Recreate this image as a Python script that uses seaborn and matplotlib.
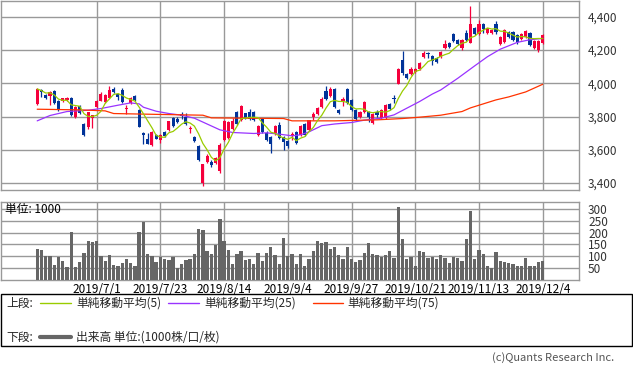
import numpy as np
import pandas as pd
import matplotlib
matplotlib.use("Agg")
import matplotlib.pyplot as plt
from matplotlib.lines import Line2D
from matplotlib.patches import Rectangle
from matplotlib.ticker import FuncFormatter
import seaborn as sns

# ---------------- data ----------------
opens = [3876, 3962, 3930, 3926, 3952, 3892, 3896, 3900, 3912, 3796,
         3862, 3756, 3740, 3790, 3858, 3896, 3888, 3914, 3968, 3938,
         3962, 3848, 3880, 3926, 3842, 3700, 3666, 3628, 3688, 3660,
         3708, 3720, 3794, 3786, 3816, 3800, 3726, 3676, 3622, 3400,
         3526, 3528, 3522, 3470, 3660, 3670, 3722, 3826, 3780, 3820,
         3826, 3830, 3690, 3786, 3700, 3676, 3698, 3752, 3676, 3650,
         3680, 3704, 3688, 3754, 3718, 3798, 3818, 3858, 3954, 3922,
         3968, 3842, 3892, 3966, 3900, 3842, 3798, 3828, 3828, 3764,
         3828, 3790, 3790, 3874, 3914, 3998, 4142, 4058, 4058, 4066,
         4086, 4158, 4182, 4162, 4152, 4160, 4210, 4242, 4296, 4262,
         4210, 4300, 4242, 4330, 4298, 4354, 4302, 4304, 4358, 4238,
         4248, 4308, 4306, 4288, 4264, 4280, 4300, 4210, 4200, 4240]
highs = [3970, 3964, 3936, 3956, 3958, 3900, 3914, 3920, 3916, 3862,
         3870, 3760, 3830, 3812, 3900, 3950, 3935, 3982, 3978, 3944,
         3970, 3868, 3918, 3930, 3846, 3704, 3700, 3712, 3692, 3692,
         3712, 3776, 3798, 3800, 3826, 3820, 3746, 3680, 3626, 3514,
         3576, 3536, 3556, 3640, 3778, 3772, 3790, 3832, 3872, 3824,
         3846, 3836, 3752, 3792, 3710, 3680, 3750, 3770, 3680, 3660,
         3706, 3710, 3750, 3760, 3782, 3828, 3858, 3918, 3982, 3976,
         3974, 3848, 3916, 3972, 3906, 3846, 3832, 3892, 3834, 3820,
         3838, 3844, 3874, 3880, 3932, 4092, 4194, 4062, 4098, 4094,
         4126, 4196, 4190, 4168, 4160, 4196, 4262, 4246, 4300, 4268,
         4268, 4318, 4462, 4340, 4382, 4360, 4334, 4328, 4372, 4286,
         4326, 4314, 4312, 4294, 4302, 4318, 4306, 4258, 4262, 4298]
lows = [3872, 3916, 3908, 3870, 3876, 3835, 3890, 3896, 3806, 3790,
        3814, 3680, 3722, 3728, 3850, 3892, 3880, 3910, 3940, 3902,
        3884, 3818, 3876, 3894, 3736, 3636, 3632, 3624, 3662, 3640,
        3676, 3714, 3740, 3760, 3788, 3748, 3702, 3648, 3534, 3380,
        3520, 3494, 3516, 3462, 3650, 3662, 3716, 3750, 3776, 3784,
        3780, 3776, 3684, 3700, 3654, 3582, 3690, 3662, 3600, 3612,
        3660, 3636, 3680, 3684, 3712, 3778, 3812, 3852, 3902, 3918,
        3850, 3814, 3862, 3874, 3834, 3778, 3792, 3822, 3768, 3758,
        3800, 3784, 3784, 3842, 3880, 3996, 4050, 4026, 4048, 4060,
        4080, 4152, 4150, 4110, 4120, 4154, 4204, 4210, 4250, 4232,
        4200, 4256, 4240, 4288, 4292, 4300, 4296, 4298, 4296, 4232,
        4244, 4272, 4254, 4236, 4258, 4274, 4222, 4204, 4186, 4234]
closes = [3966, 3946, 3912, 3946, 3880, 3840, 3910, 3912, 3810, 3858,
          3820, 3688, 3826, 3808, 3896, 3938, 3928, 3958, 3946, 3918,
          3888, 3848, 3912, 3898, 3738, 3688, 3636, 3706, 3666, 3688,
          3680, 3772, 3746, 3770, 3802, 3754, 3732, 3654, 3538, 3512,
          3562, 3508, 3548, 3630, 3772, 3766, 3776, 3756, 3866, 3790,
          3786, 3780, 3746, 3708, 3660, 3634, 3744, 3668, 3646, 3624,
          3694, 3642, 3744, 3690, 3778, 3816, 3852, 3904, 3908, 3966,
          3856, 3820, 3904, 3880, 3840, 3784, 3826, 3888, 3800, 3816,
          3808, 3838, 3868, 3848, 3904, 4084, 4062, 4034, 4088, 4088,
          4122, 4182, 4174, 4136, 4130, 4188, 4234, 4216, 4256, 4238,
          4262, 4262, 4354, 4298, 4354, 4328, 4330, 4322, 4308, 4280,
          4322, 4278, 4260, 4250, 4296, 4312, 4232, 4252, 4256, 4292]
volume = [131, 126, 101, 101, 64, 97, 81, 56, 201, 56,
          76, 114, 164, 160, 164, 100, 81, 106, 64, 60,
          72, 89, 72, 60, 201, 243, 110, 100, 76, 97,
          89, 85, 97, 50, 68, 85, 89, 110, 214, 210,
          122, 110, 147, 256, 164, 126, 68, 110, 122, 85,
          89, 68, 114, 81, 114, 139, 106, 68, 177, 102,
          110, 68, 110, 60, 89, 122, 165, 155, 159, 131,
          139, 106, 89, 139, 89, 76, 85, 114, 156, 110,
          106, 97, 106, 122, 95, 307, 173, 89, 97, 60,
          122, 118, 93, 97, 89, 106, 93, 72, 97, 93,
          81, 173, 290, 89, 127, 110, 58, 52, 118, 81,
          76, 72, 68, 58, 60, 93, 60, 58, 76, 81]

# moving averages (day index, value)
ma25_idx = [0, 3, 7, 12, 15, 19, 22, 24, 25, 28, 31, 34, 37, 40, 43, 46, 51, 54,
            57, 60, 62, 64, 67, 70, 74, 77, 81, 84, 87, 90, 93, 95, 99, 103, 106,
            109, 113, 116, 119]
ma25_val = [3774, 3806, 3830, 3838, 3848, 3868, 3882, 3876, 3856, 3832, 3818,
            3808, 3790, 3755, 3720, 3704, 3698, 3702, 3694, 3684, 3690, 3708,
            3745, 3755, 3764, 3778, 3790, 3810, 3850, 3890, 3935, 3960, 4030,
            4105, 4160, 4205, 4246, 4262, 4270]
ma75_idx = [0, 10, 16, 18, 30, 39, 41, 58, 60, 70, 80, 86, 90, 95, 100, 102,
            105, 108, 111, 115, 119]
ma75_val = [3844, 3840, 3834, 3818, 3812, 3808, 3792, 3788, 3774, 3774, 3780,
            3788, 3796, 3808, 3830, 3852, 3876, 3900, 3918, 3948, 3994]

date_idx = [14, 29, 44, 59, 74, 89, 104, 119]
date_labels = ["2019/7/1", "2019/7/23", "2019/8/14", "2019/9/4",
               "2019/9/27", "2019/10/21", "2019/11/13", "2019/12/4"]
price_ticks = [3400, 3600, 3800, 4000, 4200, 4400]
vol_ticks = [50, 100, 150, 200, 250, 300]

# ---------------- style ----------------
sns.set_theme(style="white")
plt.rcParams["font.family"] = ["Noto Sans CJK JP", "DejaVu Sans"]
plt.rcParams["axes.unicode_minus"] = False

UP = "#F5003C"
DOWN = "#003399"
C5 = "#99CC00"
C25 = "#9933FF"
C75 = "#FF3300"
GRID = "#999999"
TXT = "#333333"

W, H = 633, 372
fig = plt.figure(figsize=(W / 100, H / 100), dpi=100)
fig.patch.set_facecolor("white")

def fx(px):
    return px / W

def fy(py):
    return 1 - py / H

ax1 = fig.add_axes([fx(1), fy(190), fx(578), 189.5 / H])
ax2 = fig.add_axes([fx(1), fy(280.3), fx(578), (280.3 - 201.7) / H])

idx = np.arange(len(closes))
df = pd.DataFrame({"i": idx, "open": opens, "high": highs, "low": lows,
                   "close": closes, "volume": volume})
df["ma5"] = df["close"].rolling(5, min_periods=1).mean()

for ax in (ax1, ax2):
    ax.set_facecolor("white")
    for s in ax.spines.values():
        s.set_color(GRID)
        s.set_linewidth(1.0)

# ---------------- price panel ----------------
up = df["close"] >= df["open"]
cols = np.where(up, UP, DOWN)
ax1.vlines(df["i"], df["low"], df["high"], colors=cols, lw=0.9, zorder=3)
body_lo = np.minimum(df["open"], df["close"])
body_h = np.maximum(np.abs(df["close"] - df["open"]), 5)
ax1.bar(df["i"], body_h, bottom=body_lo, width=0.74, color=cols,
        linewidth=0, edgecolor="none", zorder=4)

sns.lineplot(x=ma25_idx, y=ma25_val, ax=ax1, color=C25, lw=0.9, zorder=5)
sns.lineplot(x=ma75_idx, y=ma75_val, ax=ax1, color=C75, lw=0.9, zorder=5)
sns.lineplot(data=df, x="i", y="ma5", ax=ax1, color=C5, lw=0.9, zorder=6)

xmin = -(37.2 - 1) / 4.248
xmax = 119 + (579 - 542.7) / 4.248
ax1.set_xlim(xmin, xmax)
ax1.set_ylim(3358, 4498)
ax1.set_xticks(date_idx)
ax1.set_xticklabels([])
ax1.set_yticks(price_ticks)
ax1.yaxis.set_major_formatter(FuncFormatter(lambda v, p: f"{int(v):,}"))
ax1.yaxis.tick_right()
ax1.tick_params(axis="y", length=0, pad=6.5, labelsize=8.5, labelcolor=TXT)
ax1.tick_params(axis="x", length=0)
ax1.grid(True, color=GRID, lw=1.0, zorder=0)
ax1.set_axisbelow(True)
ax1.set_xlabel("")
ax1.set_ylabel("")

# ---------------- volume panel ----------------
sns.barplot(data=df, x="i", y="volume", ax=ax2, color="#666666", saturation=1,
            width=0.78, native_scale=True, errorbar=None, linewidth=0,
            edgecolor="none", zorder=3)
ax2.set_xlim(xmin, xmax)
ax2.set_ylim(0, 329)
ax2.set_yticks(vol_ticks)
ax2.yaxis.tick_right()
ax2.tick_params(axis="y", length=0, pad=6.5, labelsize=8.5, labelcolor=TXT)
ax2.set_xticks(date_idx)
ax2.set_xticklabels(date_labels)
ax2.tick_params(axis="x", length=0, pad=2, labelsize=8.5, labelcolor="black")
ax2.grid(True, color=GRID, lw=1.0, zorder=0)
ax2.set_axisbelow(True)
ax2.set_xlabel("")
ax2.set_ylabel("")
ax2.text(4 / 578, 1 - 8 / 78.6, "単位: 1000", transform=ax2.transAxes,
         fontsize=8.5, color="black", va="center", ha="left", zorder=6)

# ---------------- legend box ----------------
fig.patches.append(Rectangle((fx(0.5), fy(346)), fx(631.5), 52 / H,
                             transform=fig.transFigure, fill=False,
                             edgecolor="black", lw=1.0))
fig.text(fx(6), fy(303), "上段:", fontsize=8.5, va="center", ha="left")
fig.text(fx(6), fy(337), "下段:", fontsize=8.5, va="center", ha="left")
legend_items = [(40, 71, 76, C5, "単純移動平均(5)"),
                (168, 199, 204, C25, "単純移動平均(25)"),
                (313, 343, 347, C75, "単純移動平均(75)")]
for x0, x1, xt, c, lab in legend_items:
    fig.lines.append(Line2D([fx(x0), fx(x1)], [fy(303), fy(303)],
                            transform=fig.transFigure, color=c, lw=1.0))
    fig.text(fx(xt), fy(303), lab, fontsize=8.5, va="center", ha="left")
fig.lines.append(Line2D([fx(40), fx(71)], [fy(337), fy(337)],
                        transform=fig.transFigure, color="#666666", lw=3.0))
fig.text(fx(76), fy(337), "出来高 単位:(1000株/口/枚)", fontsize=8.5,
         va="center", ha="left")

fig.text(fx(614), fy(358), "(c)Quants Research Inc.", fontsize=8,
         color="#555555", va="center", ha="right")

fig.savefig("out.png", dpi=100, facecolor="white")
